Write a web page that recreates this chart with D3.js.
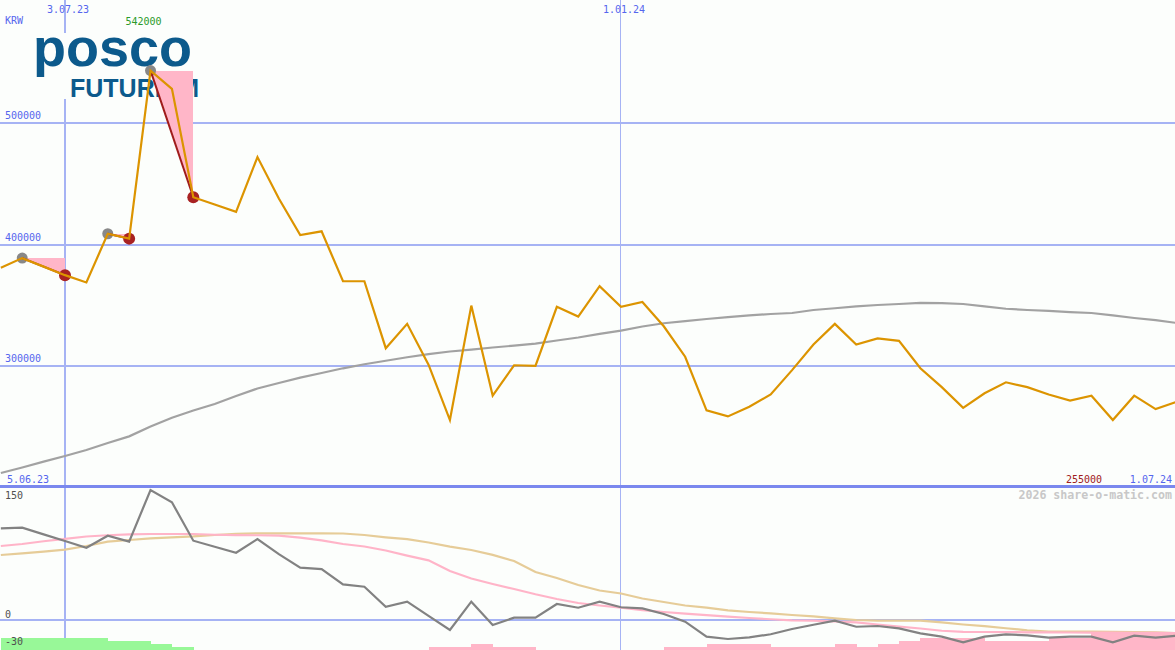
<!DOCTYPE html>
<html>
<head>
<meta charset="utf-8">
<script src="https://cdn.jsdelivr.net/npm/d3@7"></script>
<style>
  html, body { margin: 0; padding: 0; background: #fcfefc; }
  svg { display: block; }
</style>
</head>
<body>
<svg id="chart" width="1175" height="650"></svg>
<script>
// ---------------- DATA ----------------
// weekly dates (Mondays) from 12.06.23 to 1.07.24
const firstWeek = "2023-06-12";
const lastWeek = "2024-07-01";

// closing price, KRW
const price = [
  380000, 388000, 381000, 374000, 368000, 408000, 404000, 542000, 527000, 438000,
  432000, 426000, 471000, 437000, 407000, 410000, 369000, 369000, 314000, 334000,
  300500, 255000, 349000, 275000, 300000, 299500, 348000, 340000, 365000, 348000,
  352000, 332000, 307000, 263000, 258000, 266000, 276000, 296000, 317000, 334000,
  317000, 322000, 320000, 297500, 282000, 265000, 277000, 286000, 282000, 276000,
  271000, 275000, 255000, 275000, 264000, 270000
];

// long moving average (grey)
const movingAvg = [
  211500, 216000, 220800, 225500, 230400, 236100, 241600, 249700, 256900, 262800,
  268200, 274700, 280900, 285400, 289800, 293600, 297500, 300800, 303700, 306600,
  309200, 311300, 312900, 314600, 316100, 317700, 320300, 322800, 325700, 328500,
  331800, 334500, 336300, 338000, 339600, 341000, 342100, 342900, 345400, 346800,
  348300, 349500, 350300, 351300, 351100, 350300, 348300, 346400, 345400, 344700,
  343700, 342900, 340900, 338800, 337000, 334700
];

// oscillator (lower panel)
const oscillator = [
  103.5, 104.2, 96.7, 89.2, 81.7, 95.2, 88.5, 146.6, 132.8, 89.6,
  82.8, 76.1, 91.5, 74.4, 59.2, 57.7, 40.5, 37.8, 15.3, 21,
  5.0, -10.9, 21, -5.3, 3, 3, 18.4, 14.2, 21, 14.7,
  13.5, 7.1, -1.5, -18.4, -21, -19.1, -15.7, -9.7, -5, -0.4,
  -7.2, -6.4, -9, -14.6, -18.4, -24.7, -18.4, -15.7, -17, -19.5,
  -18.4, -18.4, -24.7, -17.3, -19.5, -17.3
];

// oscillator signal averages
const oscFast = [
  83.6, 85.9, 89.0, 91.7, 94.3, 95.7, 96.6, 97.1, 97.1, 97.1,
  96.3, 95.8, 95.7, 95.3, 93.0, 90.0, 85.9, 83.1, 78.6, 72.8,
  67.5, 55.4, 47.1, 40.9, 35.2, 29.3, 24.0, 19.5, 16.7, 14.3,
  11.4, 9.4, 7.5, 5.8, 4.2, 2.6, 1.2, -0.1, -0.4, -1.3,
  -2.4, -4.7, -7.1, -9.2, -11.7, -12.9, -13.1, -13.2, -13.5, -13.6,
  -13.7, -13.8, -13.9, -14.0, -14.1, -14.3
];
const oscSlow = [
  73.5, 75.4, 77.2, 79.5, 83.6, 88.5, 90.4, 92.3, 93.4, 94.4,
  96.0, 97.3, 97.9, 97.9, 97.9, 97.9, 97.7, 96.0, 93.4, 91.3,
  87.6, 82.9, 79.1, 73.6, 66.7, 54.4, 47.6, 39.7, 33.6, 30.2,
  24.6, 20.6, 16.7, 14.3, 11.3, 9.4, 7.8, 6.0, 4.5, 2.2,
  0.4, -0.4, -0.4, -0.4, -2.4, -4.7, -6.5, -8.9, -11.2, -12.8,
  -12.8, -12.8, -12.9, -13.1, -13.5, -14.6
];

// strength bars at the panel floor (negative = green, positive = pink)
const barLevel = [
  -4, -4, -4, -4, -4, -3, -3, -2, -1, 0,
  0, 0, 0, 0, 0, 0, 0, 0, 0, 0,
  1, 1, 2, 1, 1, 0, 0, 0, 0, 0,
  0, 1, 1, 2, 2, 2, 1, 1, 1, 2,
  1, 2, 3, 4, 4, 4, 3, 3, 3, 4,
  4, 5.6, 5.6, 5.6, 5.6, 5.6
];

// signal segments (grey start -> red end)
const signalFrom = ["2023-06-19", "2023-07-17", "2023-07-31"];
const signalTo   = ["2023-07-03", "2023-07-24", "2023-08-14"];

const priceTicks = [300000, 400000, 500000];
const oscTicks = [150, 0, -30];
const dateTicks = ["2023-07-03", "2024-01-01"];
const rangeStartLabel = "2023-06-05";
const rangeEndLabel = "2024-07-01";
const unitLabel = "KRW";
const maxLabel = "542000";
const minLabel = "255000";
const credit = "2026 share-o-matic.com";

// ---------------- CHART ----------------
const W = 1175, H = 650, split = 487;
const parse = d3.utcParse("%Y-%m-%d");
const fmt = d3.utcFormat("%-d.%m.%y");
const dates = d3.utcMonday.range(parse(firstWeek), d3.utcDay.offset(parse(lastWeek), 1));
const rows = dates.map((d, i) => ({
  date: d, price: price[i], ma: movingAvg[i], osc: oscillator[i],
  fast: oscFast[i], slow: oscSlow[i], bar: barLevel[i]
}));

const x = d3.scaleUtc().domain([parse("2023-07-03"), parse("2024-01-01")]).range([65, 621]);
const y = d3.scaleLinear().domain([200000, 600000]).range([split, 0]);
const y2 = d3.scaleLinear().domain([-30, 150]).range([647, split]);
const barH = d3.scaleLinear().domain([0, 10]).range([0, 31]);

const BG = "#fcfefc", GRID = "#a6b3f4", LABEL = "#5566ee";
const svg = d3.select("#chart");
svg.append("rect").attr("width", W).attr("height", H).attr("fill", BG);

const defs = svg.append("defs");
defs.append("clipPath").attr("id", "clipTop").append("rect")
  .attr("x", 0).attr("y", 0).attr("width", W).attr("height", split - 1);
defs.append("clipPath").attr("id", "clipBot").append("rect")
  .attr("x", 0).attr("y", split).attr("width", W).attr("height", H - split);

// grid
const grid = svg.append("g").attr("shape-rendering", "crispEdges");
grid.selectAll("line.h").data(priceTicks).join("line")
  .attr("x1", 0).attr("x2", W)
  .attr("y1", d => Math.round(y(d)) + 0.5).attr("y2", d => Math.round(y(d)) + 0.5)
  .attr("stroke", GRID).attr("stroke-width", 2);
grid.append("line")
  .attr("x1", 0).attr("x2", W).attr("y1", y2(0)).attr("y2", y2(0))
  .attr("stroke", GRID).attr("stroke-width", 2);
grid.selectAll("line.v").data(dateTicks).join("line")
  .attr("x1", (d, i) => i === 0 ? x(parse(d)) : x(parse(d)) - 0.5)
  .attr("x2", (d, i) => i === 0 ? x(parse(d)) : x(parse(d)) - 0.5)
  .attr("y1", 0).attr("y2", H)
  .attr("stroke", GRID).attr("stroke-width", (d, i) => i === 0 ? 2 : 1);

// logo
const logo = svg.append("g");
logo.append("rect").attr("x", 30).attr("y", 33).attr("width", 175).attr("height", 66).attr("fill", BG);
logo.append("text").attr("x", 33).attr("y", 66)
  .attr("font-family", "Liberation Sans, Arial, sans-serif").attr("font-weight", "bold")
  .attr("font-size", 54).attr("fill", "#0c5a8c").text("posco");
logo.append("text").attr("x", 70).attr("y", 96.5)
  .attr("font-family", "Liberation Sans, Arial, sans-serif").attr("font-weight", "bold")
  .attr("font-size", 25).attr("fill", "#0c5a8c").text("FUTURE M");

// ---- top panel data ----
const topG = svg.append("g").attr("clip-path", "url(#clipTop)");
const byDate = new Map(rows.map(r => [+r.date, r]));
const sig = signalFrom.map((f, i) => ({ a: byDate.get(+parse(f)), b: byDate.get(+parse(signalTo[i])) }));

topG.selectAll("path.tri").data(sig).join("path")
  .attr("d", s => d3.line()([
    [x(s.a.date), y(s.a.price)], [x(s.b.date), y(s.a.price)], [x(s.b.date), y(s.b.price)]
  ]) + "Z")
  .attr("fill", "#ffb6c8").attr("shape-rendering", "crispEdges");

topG.append("path").datum(rows)
  .attr("d", d3.line().x(d => x(d.date)).y(d => y(d.ma)))
  .attr("fill", "none").attr("stroke", "#a2a2a2").attr("stroke-width", 2.2);

topG.selectAll("circle.g").data(sig).join("circle")
  .attr("cx", s => x(s.a.date)).attr("cy", s => y(s.a.price)).attr("r", 5.5)
  .attr("fill", "#888888");
topG.selectAll("circle.r").data(sig).join("circle")
  .attr("cx", s => x(s.b.date)).attr("cy", s => y(s.b.price)).attr("r", 6)
  .attr("fill", "#a82222");
topG.selectAll("line.sig").data(sig).join("line")
  .attr("x1", s => x(s.a.date)).attr("y1", s => y(s.a.price))
  .attr("x2", s => x(s.b.date)).attr("y2", s => y(s.b.price))
  .attr("stroke", "#a01c1c").attr("stroke-width", 2);

topG.append("path").datum(rows)
  .attr("d", d3.line().x(d => x(d.date)).y(d => y(d.price)))
  .attr("fill", "none").attr("stroke", "#dc9400").attr("stroke-width", 2.2)
  .attr("stroke-linejoin", "miter");

// ---- bottom panel data ----
const botG = svg.append("g").attr("clip-path", "url(#clipBot)");
const step = x(dates[1]) - x(dates[0]);
botG.selectAll("rect.bar").data(rows.filter(r => r.bar !== 0)).join("rect")
  .attr("x", d => x(d.date)).attr("width", step + 0.5)
  .attr("y", d => H - barH(Math.abs(d.bar))).attr("height", d => barH(Math.abs(d.bar)))
  .attr("fill", d => d.bar < 0 ? "#98f898" : "#ffb6c8")
  .attr("shape-rendering", "crispEdges");

botG.append("path").datum(rows)
  .attr("d", d3.line().x(d => x(d.date)).y(d => y2(d.slow)))
  .attr("fill", "none").attr("stroke", "#e6cc98").attr("stroke-width", 2.2);
botG.append("path").datum(rows)
  .attr("d", d3.line().x(d => x(d.date)).y(d => y2(d.fast)))
  .attr("fill", "none").attr("stroke", "#ffb4c8").attr("stroke-width", 2.2);
botG.append("path").datum(rows)
  .attr("d", d3.line().x(d => x(d.date)).y(d => y2(d.osc)))
  .attr("fill", "none").attr("stroke", "#828282").attr("stroke-width", 2.2);

// divider
svg.append("line").attr("x1", 0).attr("x2", W).attr("y1", split - 0.5).attr("y2", split - 0.5)
  .attr("stroke", "#7a88ee").attr("stroke-width", 2.5).attr("shape-rendering", "crispEdges");

// ---- text ----
const mono = "DejaVu Sans Mono, monospace";
const T = svg.append("g").attr("font-family", mono).attr("font-size", 10);

T.append("text").attr("x", 5).attr("y", 24).attr("fill", LABEL).text(unitLabel);
T.selectAll("text.py").data(priceTicks).join("text")
  .attr("x", 5).attr("y", d => y(d) - 3).attr("fill", LABEL).text(d => d);
T.selectAll("text.dx").data(dateTicks).join("text")
  .attr("x", d => x(parse(d)) + 3).attr("y", 13).attr("text-anchor", "middle")
  .attr("fill", LABEL).text(d => fmt(parse(d)));
T.append("text").attr("x", 7).attr("y", 483).attr("fill", LABEL).text(fmt(parse(rangeStartLabel)));
T.append("text").attr("x", 1172).attr("y", 483).attr("text-anchor", "end")
  .attr("fill", LABEL).text(fmt(parse(rangeEndLabel)));

const maxRow = rows.reduce((a, b) => b.price > a.price ? b : a);
T.append("text").attr("x", x(maxRow.date) - 7).attr("y", 25).attr("text-anchor", "middle")
  .attr("fill", "#2a9a2a").text(maxLabel);
T.append("text").attr("x", 1102).attr("y", 483).attr("text-anchor", "end")
  .attr("fill", "#a02020").text(minLabel);

T.selectAll("text.oy").data(oscTicks).join("text")
  .attr("x", 5).attr("y", d => d === 150 ? y2(d) + 12 : y2(d) - 2)
  .attr("fill", "#505050").text(d => d);

svg.append("text").attr("x", 1172).attr("y", 499).attr("text-anchor", "end")
  .attr("font-family", mono).attr("font-size", 11.6).attr("font-weight", "bold")
  .attr("fill", "#c8c8c8").text(credit);
</script>
</body>
</html>
